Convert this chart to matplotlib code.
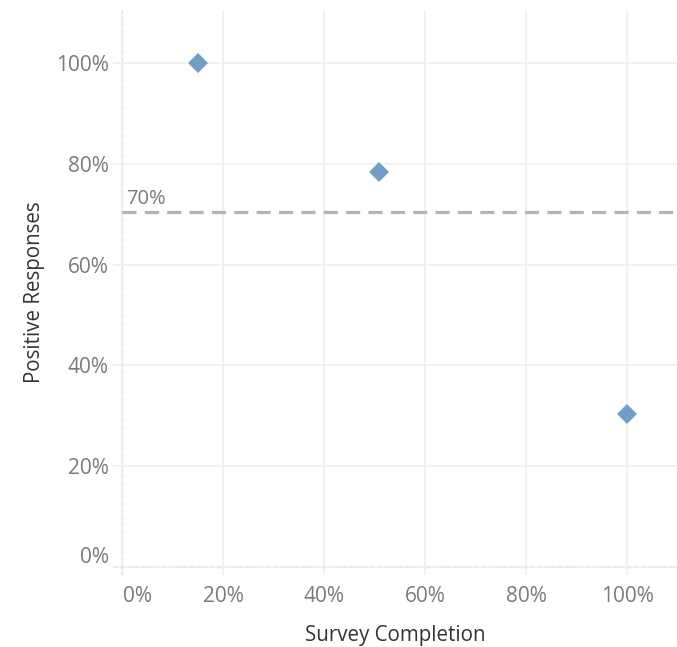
import matplotlib
matplotlib.use('Agg')
import matplotlib.pyplot as plt
from matplotlib.ticker import FuncFormatter
import matplotlib.transforms as mtransforms

# data
completion = [0.150, 0.508, 1.000]
positive = [1.000, 0.783, 0.304]
ref_value = 0.705
ref_label = '70%'
x_ticks = [0, 0.2, 0.4, 0.6, 0.8, 1.0]
y_ticks = [0, 0.2, 0.4, 0.6, 0.8, 1.0]

plt.rcParams['font.family'] = ['Open Sans', 'DejaVu Sans']

fig = plt.figure(figsize=(6.77, 6.47), dpi=100)
ax = fig.add_axes([113 / 677, 72 / 647, 564 / 677, 565 / 647])

grid_c = '#efefef'
ax.set_xlim(-0.018, 1.099)
ax.set_ylim(-0.016, 1.105)
ax.set_xticks(x_ticks)
ax.set_yticks(y_ticks)
ax.grid(True, color=grid_c, linewidth=1.2)
ax.set_axisbelow(True)
for s in ax.spines.values():
    s.set_visible(False)

# zero lines (dashed, very light)
ax.axvline(0, color='#e4e4e4', linewidth=1, linestyle=(0, (3, 2)), zorder=1)
ax.axhline(0, color='#e4e4e4', linewidth=1, linestyle=(0, (3, 2)), zorder=1)

pct = FuncFormatter(lambda v, p: '{:.0f}%'.format(v * 100))
ax.xaxis.set_major_formatter(pct)
ax.yaxis.set_major_formatter(pct)
ax.tick_params(axis='both', length=0, labelsize=15, labelcolor='#7a7a7a')
ax.tick_params(axis='x', pad=8)
ax.tick_params(axis='y', pad=3)

# reference line
ax.hlines(ref_value, 0, ax.get_xlim()[1], colors='#b3b3b3', linewidth=2.3,
          linestyles=[(0, (4.4, 2.6))], zorder=2)
ax.annotate(ref_label, (0, ref_value), xytext=(3, 2), textcoords='offset points',
            ha='left', va='bottom', fontsize=14.5, color='#7a7a7a')

ax.plot(completion, positive, linestyle='none', marker='D', markersize=10.2,
        color='#729dc6', markeredgewidth=0, zorder=3)

ax.set_xlabel('Survey Completion', fontsize=14.8, color='#333333', labelpad=13)
ax.set_ylabel('Positive Responses', fontsize=14.8, color='#333333', labelpad=8)

fig.canvas.draw()
# keep the end labels inside the axis like the original
xl = ax.get_xticklabels()
xl[0].set_horizontalalignment('left')
xl[0].set_transform(xl[0].get_transform() + mtransforms.ScaledTranslation(1 / 72, 0, fig.dpi_scale_trans))
yl = ax.get_yticklabels()
yl[0].set_verticalalignment('bottom')
yl[0].set_transform(yl[0].get_transform() + mtransforms.ScaledTranslation(0, -1 / 72, fig.dpi_scale_trans))

fig.savefig('out.png', dpi=100)
